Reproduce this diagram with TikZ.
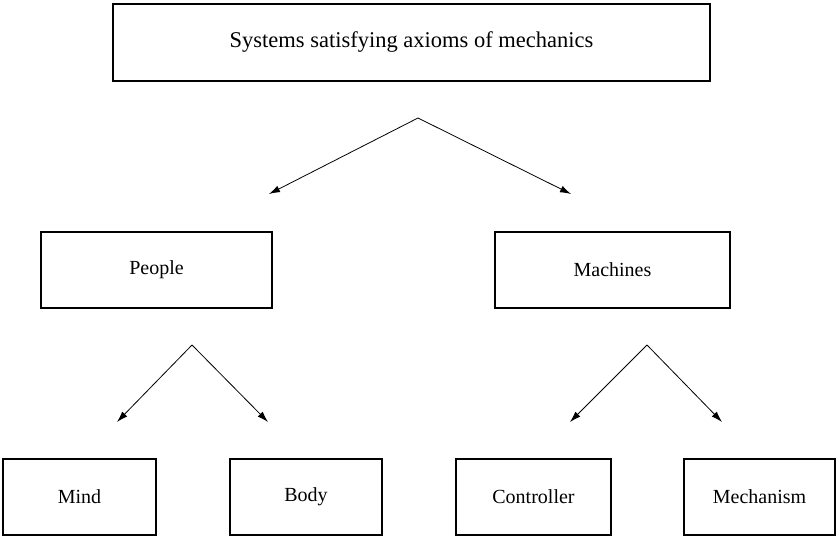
\documentclass[tikz,border=0pt]{standalone}
\usepackage{fontspec}
\setmainfont{Liberation Serif}
\usetikzlibrary{arrows.meta}
\begin{document}
\begin{tikzpicture}[x=1pt,y=-1pt,
  box/.style={draw,line width=2pt,rectangle,inner sep=0pt,font=\fontsize{20}{24}\selectfont},
  link/.style={line width=0.8pt,-{Latex[length=11pt,width=7pt]}}]
\useasboundingbox (0,0) rectangle (837,537);
% boxes, given by their corners
\node[box,minimum width=597pt,minimum height=77pt,font=\fontsize{22.5}{27}\selectfont] (sys) at (411.5,42.5) {Systems satisfying axioms of mechanics};
\node[box,minimum width=231pt,minimum height=76pt] (people) at (156.5,270) {People};
\node[box,minimum width=235pt,minimum height=76pt] (machines) at (612.5,270) {Machines};
\node[box,minimum width=153pt,minimum height=76pt] (mind) at (79.5,497) {\raisebox{-2pt}{Mind}};
\node[box,minimum width=152pt,minimum height=76pt] (body) at (306,497) {Body};
\node[box,minimum width=155pt,minimum height=76pt] (controller) at (533.5,497) {\raisebox{-1pt}{Controller}};
\node[box,minimum width=151pt,minimum height=76pt] (mechanism) at (759.5,497) {\raisebox{-1pt}{Mechanism}};
% branch points and arrow ends
\coordinate (top) at (418,118);
\coordinate (toL) at (269,194);
\coordinate (toR) at (571,194);
\coordinate (pApex) at (192,345);
\coordinate (pL) at (117,422);
\coordinate (pR) at (268,422);
\coordinate (mApex) at (647,345);
\coordinate (mL) at (570,422);
\coordinate (mR) at (722,422);
\draw[link] (top) -- (toL);
\draw[link] (top) -- (toR);
\draw[link] (pApex) -- (pL);
\draw[link] (pApex) -- (pR);
\draw[link] (mApex) -- (mL);
\draw[link] (mApex) -- (mR);
\end{tikzpicture}
\end{document}
